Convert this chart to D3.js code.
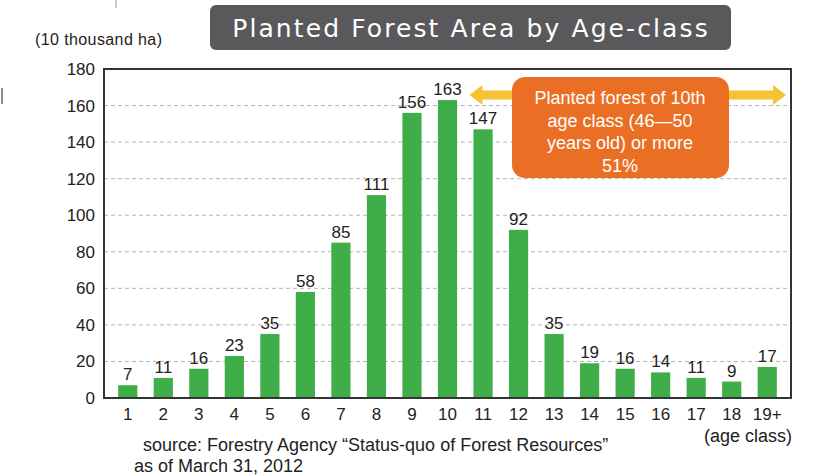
<!DOCTYPE html>
<html>
<head>
<meta charset="utf-8">
<script src="https://cdn.jsdelivr.net/npm/d3@7"></script>
<style>
  body { margin: 0; background: #fff; }
  svg text { font-family: "Liberation Sans", Arial, sans-serif; }
</style>
</head>
<body>
<div id="chart"></div>
<script>
// age classes and area (10 thousand ha)
var ageClasses = ["1","2","3","4","5","6","7","8","9","10","11","12","13","14","15","16","17","18","19+"]
var areaValues = [7, 11, 16, 23, 35, 58, 85, 111, 156, 163, 147, 92, 35, 19, 16, 14, 11, 9, 17]
var yTicks = [0, 20, 40, 60, 80, 100, 120, 140, 160, 180]
var calloutLines = ["Planted forest of 10th", "age class (46\u201450", "years old) or more", "51%"]
var sourceLines = ["source: Forestry Agency \u201cStatus-quo of Forest Resources\u201d", "as of March 31, 2012"]

var width = 823, height = 476
var plot = { left: 104, right: 791, top: 69, bottom: 398 }

var svg = d3.select("#chart").append("svg")
  .attr("width", width)
  .attr("height", height)

var x = d3.scaleBand().domain(ageClasses).range([110, 785]).paddingInner(0.46).paddingOuter(0.23)
var y = d3.scaleLinear().domain([0, 180]).range([plot.bottom, plot.top])

// stray marks from the scan
svg.append("line").attr("x1", 116).attr("x2", 116).attr("y1", 0).attr("y2", 8)
  .attr("stroke", "#999").attr("stroke-width", 1)
svg.append("line").attr("x1", 2).attr("x2", 2).attr("y1", 88).attr("y2", 104)
  .attr("stroke", "#a08a7a").attr("stroke-width", 2)

// title
svg.append("rect").attr("x", 210).attr("y", 5).attr("width", 521).attr("height", 45)
  .attr("rx", 6).attr("fill", "#59595b")
svg.append("text").attr("x", 471).attr("y", 37).attr("text-anchor", "middle")
  .style("font-family", "'DejaVu Sans', sans-serif").style("font-size", "25px")
  .style("letter-spacing", "2.1px").attr("fill", "#fff")
  .text("Planted Forest Area by Age-class")

// unit
svg.append("text").attr("x", 35).attr("y", 45).style("font-size", "16px").attr("fill", "#222")
  .style("letter-spacing", "0.4px")
  .text("(10 thousand ha)")

// gridlines
svg.append("g").selectAll("line")
  .data(yTicks.filter(d => d > 0 && d < 180))
  .enter().append("line")
  .attr("x1", plot.left).attr("x2", plot.right)
  .attr("y1", d => y(d)).attr("y2", d => y(d))
  .attr("stroke", "#b5b5b5").attr("stroke-dasharray", "4,3").attr("stroke-width", 1)

// y axis labels
var yAxis = d3.axisLeft(y).tickValues(yTicks).tickSize(0).tickPadding(9)
svg.append("g")
  .attr("class", "axis y-axis")
  .attr("transform", "translate(" + plot.left + ",0)")
  .call(yAxis)
  .call(g => g.select(".domain").remove())
  .selectAll("text").style("font-size", "17px").attr("fill", "#222")

// bars
svg.append("g").selectAll("rect")
  .data(areaValues)
  .enter().append("rect")
  .attr("x", (d, i) => x(ageClasses[i]))
  .attr("y", d => y(d))
  .attr("width", x.bandwidth())
  .attr("height", d => y(0) - y(d))
  .attr("fill", "#3fae49")

// value labels
svg.append("g").selectAll("text")
  .data(areaValues)
  .enter().append("text")
  .attr("x", (d, i) => x(ageClasses[i]) + x.bandwidth() / 2)
  .attr("y", d => y(d) - 5)
  .attr("text-anchor", "middle")
  .style("font-size", "17px").attr("fill", "#222")
  .text(d => d)

// frame
svg.append("rect").attr("x", plot.left).attr("y", plot.top)
  .attr("width", plot.right - plot.left).attr("height", plot.bottom - plot.top)
  .attr("fill", "none").attr("stroke", "#333").attr("stroke-width", 2)

// x axis labels
var xAxis = d3.axisBottom(x).tickSize(0).tickPadding(10)
svg.append("g")
  .attr("class", "axis x-axis")
  .attr("transform", "translate(0," + plot.bottom + ")")
  .call(xAxis)
  .call(g => g.select(".domain").remove())
  .selectAll("text").style("font-size", "17px").attr("fill", "#222")

svg.append("text").attr("x", 792).attr("y", 442).attr("text-anchor", "end")
  .style("font-size", "18px").attr("fill", "#222").text("(age class)")

// arrow
var arrowY = 95
var leftTip = x("11") - 4, rightTip = 786
var arrow = svg.append("g").attr("fill", "#f6c235")
arrow.append("rect").attr("x", leftTip + 10).attr("y", arrowY - 4.5)
  .attr("width", rightTip - leftTip - 20).attr("height", 9)
arrow.append("path").attr("d", d3.line()([
  [leftTip, arrowY], [leftTip + 13, arrowY - 10], [leftTip + 13, arrowY + 10]
]))
arrow.append("path").attr("d", d3.line()([
  [rightTip, arrowY], [rightTip - 13, arrowY - 10], [rightTip - 13, arrowY + 10]
]))

// callout box
svg.append("rect").attr("x", 512).attr("y", 77).attr("width", 217).attr("height", 101)
  .attr("rx", 13).attr("fill", "#ea6f24")
svg.append("g").selectAll("text")
  .data(calloutLines)
  .enter().append("text")
  .attr("x", 620)
  .attr("y", (d, i) => 104 + i * 22.5)
  .attr("text-anchor", "middle")
  .style("font-size", "18px").attr("fill", "#fff")
  .text(d => d)

// source
svg.append("g").selectAll("text")
  .data(sourceLines)
  .enter().append("text")
  .attr("x", (d, i) => i === 0 ? 143 : 134)
  .attr("y", (d, i) => 451 + i * 21)
  .style("font-size", "18px").attr("fill", "#222")
  .text(d => d)
</script>
</body>
</html>
